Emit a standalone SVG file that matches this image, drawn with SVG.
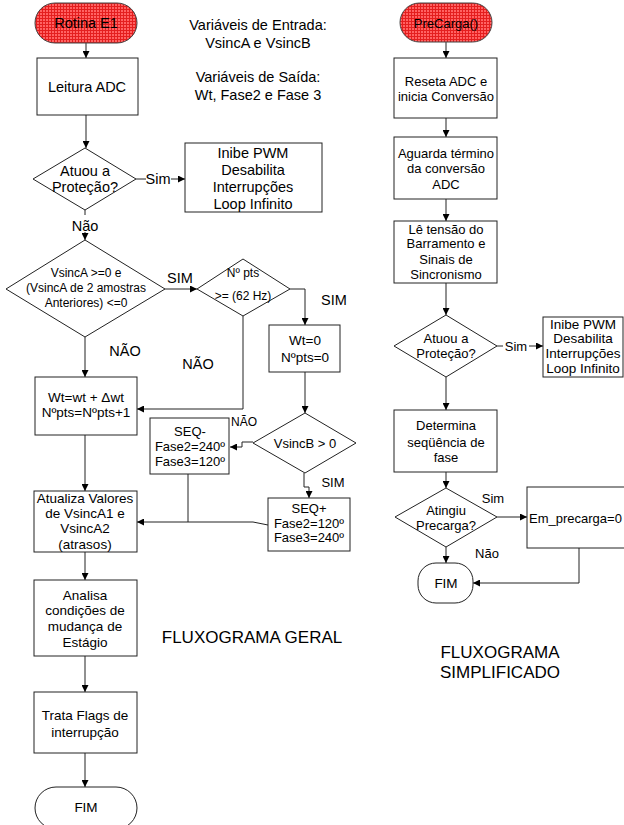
<svg xmlns="http://www.w3.org/2000/svg" width="624" height="825" viewBox="0 0 624 825">
  <defs>
    <pattern id="hatch" width="3" height="3" patternUnits="userSpaceOnUse">
      <rect width="3" height="3" fill="#ff6262"/>
      <path d="M0,0.5H3M0.5,0V3" stroke="#e41e1e" stroke-width="1"/>
    </pattern>
    <marker id="ah" viewBox="0 0 8 8" refX="8" refY="4" markerWidth="7" markerHeight="7" orient="auto" markerUnits="userSpaceOnUse">
      <path d="M0,0 L8,4 L0,8 z" fill="#000"/>
    </marker>
  </defs>
  <style>
    text { font-family: "Liberation Sans", Arial, sans-serif; fill: #000; text-anchor: middle; }
    .box { fill: #fff; stroke: #222; stroke-width: 1; }
    .start { fill: url(#hatch); stroke: #444; stroke-width: 1; }
    .wire { fill: none; stroke: #222; stroke-width: 1; }
    .arr { marker-end: url(#ah); }
    .f13 { font-size: 13px; }
    .f135 { font-size: 13.5px; }
    .f14 { font-size: 14.5px; }
    .f12 { font-size: 12px; }
    .f17 { font-size: 17px; }
    .ls { text-anchor: start; }
  </style>
  <rect width="624" height="825" fill="#fff"/>

  <!-- connectors -->
  <g id="connectors">
    <!-- general flowchart -->
    <line class="wire arr" x1="86" y1="43" x2="86" y2="58"/>
    <line class="wire arr" x1="86" y1="115" x2="86" y2="148"/>
    <line class="wire" x1="136" y1="179" x2="146" y2="179"/>
    <line class="wire arr" x1="171" y1="179" x2="185" y2="179"/>
    <line class="wire arr" x1="85" y1="210" x2="85" y2="240"/>
    <line class="wire arr" x1="165" y1="289" x2="197" y2="289"/>
    <polyline class="wire arr" points="290,289 305,289 305,325"/>
    <line class="wire arr" x1="305" y1="372" x2="305" y2="413"/>
    <polyline class="wire arr" points="243,316 243,409 137,409"/>
    <line class="wire arr" x1="85" y1="337" x2="85" y2="377"/>
    <polyline class="wire arr" points="253,442 242,442 242,447 230,447"/>
    <polyline class="wire arr" points="304,473 304,487 309,487 309,498"/>
    <polyline class="wire arr" points="268,525 253,522 137,522"/>
    <line class="wire" x1="188" y1="474" x2="188" y2="522"/>
    <line class="wire arr" x1="85" y1="435" x2="85" y2="491"/>
    <line class="wire arr" x1="85" y1="552" x2="85" y2="580"/>
    <line class="wire arr" x1="85" y1="656" x2="85" y2="692"/>
    <line class="wire arr" x1="85" y1="753" x2="85" y2="787"/>
    <!-- simplified flowchart -->
    <line class="wire arr" x1="446" y1="42" x2="446" y2="58"/>
    <line class="wire arr" x1="446" y1="118" x2="446" y2="137"/>
    <line class="wire arr" x1="446" y1="199" x2="446" y2="221"/>
    <line class="wire arr" x1="446" y1="283" x2="446" y2="315"/>
    <line class="wire" x1="497" y1="346" x2="503" y2="346"/>
    <line class="wire arr" x1="529" y1="346" x2="543" y2="346"/>
    <line class="wire arr" x1="446" y1="377" x2="446" y2="410"/>
    <line class="wire arr" x1="446" y1="472" x2="446" y2="488"/>
    <line class="wire arr" x1="497" y1="517" x2="527" y2="517"/>
    <line class="wire arr" x1="446" y1="547" x2="446" y2="563"/>
    <polyline class="wire arr" points="579,548 579,583 473,583"/>
  </g>

  <!-- free labels -->
  <g id="labels">
    <text class="f14" x="258" y="30">Variáveis de Entrada:</text>
    <text class="f14" x="258" y="48">VsincA e VsincB</text>
    <text class="f14" x="258" y="82">Variáveis de Saída:</text>
    <text class="f14" x="258" y="100">Wt, Fase2 e Fase 3</text>
    <text class="f14" x="158" y="184">Sim</text>
    <rect x="70" y="215" width="30" height="17" fill="#fff"/>
    <text class="f14" x="85" y="231">Não</text>
    <text class="f14" x="180" y="283">SIM</text>
    <text class="f14" x="334" y="305">SIM</text>
    <text class="f14" x="125" y="356">NÃO</text>
    <text class="f14" x="198" y="369">NÃO</text>
    <text class="f12" x="244" y="426">NÃO</text>
    <text class="f13" x="333" y="487">SIM</text>
    <text class="f17" x="252" y="643">FLUXOGRAMA GERAL</text>
    <text class="f13" x="516" y="351">Sim</text>
    <text class="f13" x="493" y="503">Sim</text>
    <text class="f13" x="487" y="558">Não</text>
    <text class="f17" x="500" y="658">FLUXOGRAMA</text>
    <text class="f17" x="500" y="678">SIMPLIFICADO</text>
  </g>

  <!-- general flowchart nodes -->
  <g id="rotina-e1">
    <rect class="start" x="35" y="3" width="102" height="40" rx="20"/>
    <text class="f14" x="86" y="28">Rotina E1</text>
  </g>
  <g id="leitura-adc">
    <rect class="box" x="37" y="58" width="101" height="57"/>
    <text class="f14" x="87" y="92">Leitura ADC</text>
  </g>
  <g id="protecao-1">
    <polygon class="box" points="85,148 136,179 85,210 33,179"/>
    <text class="f14" x="85" y="176">Atuou a</text>
    <text class="f14" x="85" y="192">Proteção?</text>
  </g>
  <g id="inibe-1">
    <rect class="box" x="185" y="143" width="137" height="69"/>
    <text class="f14" x="253" y="158">Inibe PWM</text>
    <text class="f14" x="253" y="175">Desabilita</text>
    <text class="f14" x="253" y="192">Interrupções</text>
    <text class="f14" x="253" y="209">Loop Infinito</text>
  </g>
  <g id="cruzamento-zero">
    <polygon class="box" points="85,240 165,289 85,337 6,289"/>
    <text class="f12" x="86" y="277">VsincA &gt;=0 e</text>
    <text class="f12" x="86" y="292">(VsincA de 2 amostras</text>
    <text class="f12" x="86" y="307">Anteriores) &lt;=0</text>
  </g>
  <g id="npts-teste">
    <polygon class="box" points="243,259 290,289 243,316 197,289"/>
    <text class="f12" x="243" y="277">Nº pts</text>
    <text class="f12" x="243" y="300">&gt;= (62 Hz)</text>
  </g>
  <g id="zera-wt">
    <rect class="box" x="269" y="325" width="71" height="47"/>
    <text class="f135" x="305" y="345">Wt=0</text>
    <text class="f135" x="305" y="362">Nºpts=0</text>
  </g>
  <g id="incrementa-wt">
    <rect class="box" x="35" y="377" width="102" height="58"/>
    <text class="f135" x="86" y="402">Wt=wt + Δwt</text>
    <text class="f135" x="86" y="417">Nºpts=Nºpts+1</text>
  </g>
  <g id="vsincb-teste">
    <polygon class="box" points="305,413 356,443 305,473 253,443"/>
    <text class="f13" x="305" y="448">VsincB &gt; 0</text>
  </g>
  <g id="seq-neg">
    <rect class="box" x="150" y="418" width="79" height="56"/>
    <text class="f13" x="190" y="436">SEQ-</text>
    <text class="f13" x="190" y="451">Fase2=240º</text>
    <text class="f13" x="190" y="466">Fase3=120º</text>
  </g>
  <g id="seq-pos">
    <rect class="box" x="268" y="498" width="82" height="53"/>
    <text class="f13" x="309" y="513">SEQ+</text>
    <text class="f13" x="309" y="528">Fase2=120º</text>
    <text class="f13" x="309" y="542">Fase3=240º</text>
  </g>
  <g id="atualiza">
    <rect class="box" x="34" y="491" width="103" height="61"/>
    <text class="f135" x="85" y="503">Atualiza Valores</text>
    <text class="f135" x="85" y="518">de VsincA1 e</text>
    <text class="f135" x="85" y="533">VsincA2</text>
    <text class="f135" x="85" y="549">(atrasos)</text>
  </g>
  <g id="analisa">
    <rect class="box" x="34" y="580" width="103" height="76"/>
    <text class="f135" x="85" y="600">Analisa</text>
    <text class="f135" x="85" y="615">condições de</text>
    <text class="f135" x="85" y="631">mudança de</text>
    <text class="f135" x="85" y="647">Estágio</text>
  </g>
  <g id="trata-flags">
    <rect class="box" x="34" y="692" width="103" height="61"/>
    <text class="f135" x="85" y="720">Trata Flags de</text>
    <text class="f135" x="85" y="737">interrupção</text>
  </g>
  <g id="fim-1">
    <rect class="box" x="35" y="787" width="102" height="42" rx="21"/>
    <text class="f135" x="86" y="812">FIM</text>
  </g>

  <!-- simplified flowchart nodes -->
  <g id="precarga">
    <rect class="start" x="400" y="3" width="92" height="39" rx="19.5"/>
    <text class="f13" x="446" y="28">PreCarga()</text>
  </g>
  <g id="reseta-adc">
    <rect class="box" x="394" y="58" width="103" height="60"/>
    <text class="f13" x="446" y="86">Reseta ADC e</text>
    <text class="f13" x="446" y="101">inicia Conversão</text>
  </g>
  <g id="aguarda">
    <rect class="box" x="394" y="137" width="103" height="62"/>
    <text class="f13" x="446" y="158">Aguarda término</text>
    <text class="f13" x="446" y="173">da conversão</text>
    <text class="f13" x="446" y="189">ADC</text>
  </g>
  <g id="le-tensao">
    <rect class="box" x="394" y="221" width="103" height="62"/>
    <text class="f13" x="446" y="234">Lê tensão do</text>
    <text class="f13" x="446" y="248">Barramento e</text>
    <text class="f13" x="446" y="264">Sinais de</text>
    <text class="f13" x="446" y="279">Sincronismo</text>
  </g>
  <g id="protecao-2">
    <polygon class="box" points="446,315 497,346 446,377 394,346"/>
    <text class="f13" x="446" y="343">Atuou a</text>
    <text class="f13" x="446" y="358">Proteção?</text>
  </g>
  <g id="inibe-2">
    <rect class="box" x="543" y="317" width="80" height="60"/>
    <text class="f135" x="583" y="329">Inibe PWM</text>
    <text class="f135" x="583" y="343">Desabilita</text>
    <text class="f135" x="583" y="358">Interrupções</text>
    <text class="f135" x="583" y="373">Loop Infinito</text>
  </g>
  <g id="determina">
    <rect class="box" x="394" y="410" width="103" height="62"/>
    <text class="f13" x="446" y="430">Determina</text>
    <text class="f13" x="446" y="447">seqüência de</text>
    <text class="f13" x="446" y="462">fase</text>
  </g>
  <g id="atingiu">
    <polygon class="box" points="446,488 497,517 446,547 395,517"/>
    <text class="f13" x="446" y="515">Atingiu</text>
    <text class="f13" x="446" y="530">Precarga?</text>
  </g>
  <g id="em-precarga">
    <rect class="box" x="527" y="487" width="100" height="61"/>
    <text class="f13 ls" x="529" y="523">Em_precarga=0</text>
  </g>
  <g id="fim-2">
    <rect class="box" x="418" y="563" width="55" height="40" rx="18"/>
    <text class="f135" x="446" y="588">FIM</text>
  </g>
</svg>
